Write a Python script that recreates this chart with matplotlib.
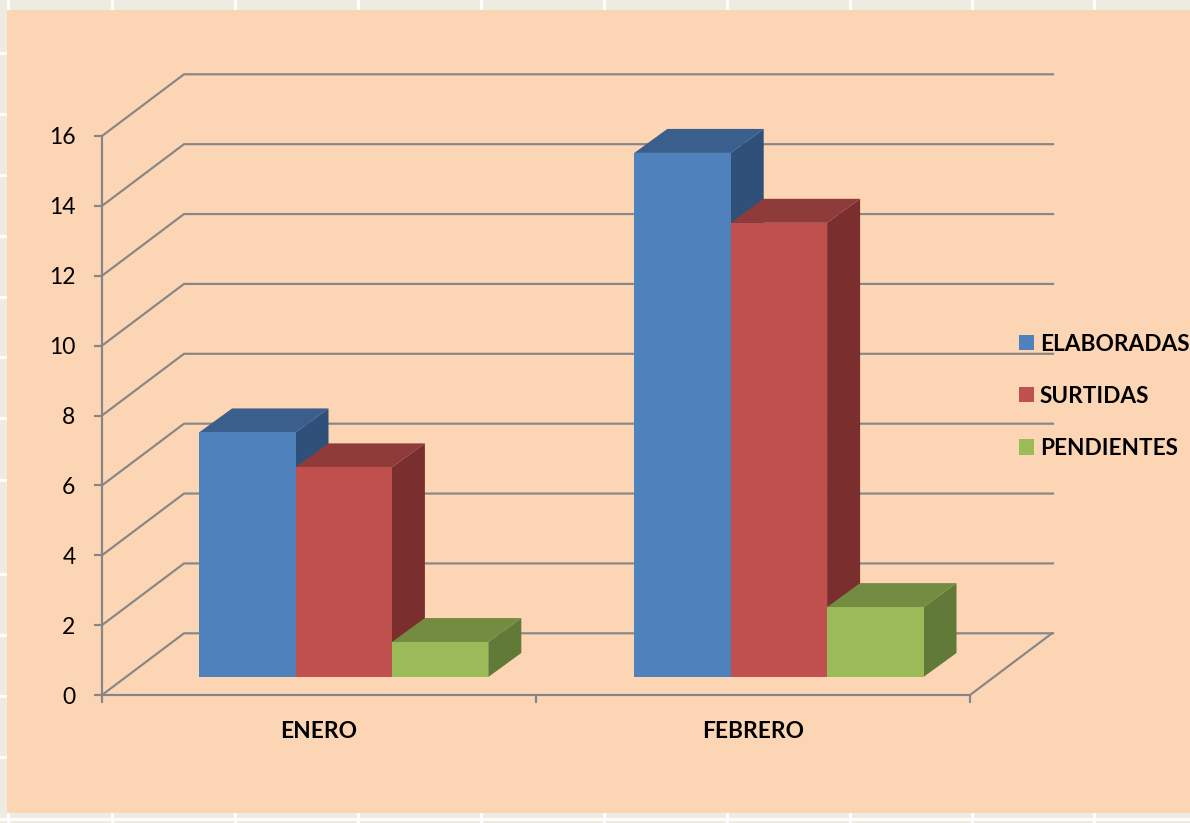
import matplotlib
matplotlib.use("Agg")
import matplotlib.pyplot as plt
from matplotlib.patches import Polygon, Patch, Rectangle

categories = ["ENERO", "FEBRERO"]
series_names = ["ELABORADAS", "SURTIDAS", "PENDIENTES"]
elaboradas = [7, 15]
surtidas = [6, 13]
pendientes = [1, 2]
y_ticks = [0, 2, 4, 6, 8, 10, 12, 14, 16]

FRONT = ["#4F81BD", "#C0504D", "#9BBB59"]
TOP = ["#3A5F8C", "#8E3B39", "#748C42"]
SIDE = ["#2F5079", "#7A2F2E", "#627A37"]
GRID = "#868686"
W, H = 1190, 823
FONT = "Lato"

fig = plt.figure(figsize=(W / 100, H / 100), dpi=100, facecolor="#EEECE1")

# page background in pixel coordinates
bg = fig.add_axes([0, 0, 1, 1], zorder=0)
bg.set_xlim(0, W)
bg.set_ylim(H, 0)
bg.axis("off")
for x in [7.5, 112, 235, 358, 481, 604, 727, 850, 972, 1094]:
    bg.axvline(x, color="white", lw=2.0)
for y in [53, 114, 175, 236, 297, 357, 418, 480, 574, 635, 696, 757, 819]:
    bg.axhline(y, color="white", lw=2.0)
bg.add_patch(Rectangle((7, 10), W, 803, fc="#FCD5B5", ec="none", zorder=4))

# front plane of the 3-D chart
x0, x1, y0, y1 = 102, 970, 695, 136
ax = fig.add_axes([x0 / W, 1 - y0 / H, (x1 - x0) / W, (y0 - y1) / H], zorder=2)
ax.set_xlim(0, 2)
ax.set_ylim(0, 16)
ax.patch.set_alpha(0)
sx = 2 / (x1 - x0)
sy = 16 / (y0 - y1)
dx_wall, dy_wall = 82 * sx, 61.7 * sy
dx_off, dy_off = 24.7 * sx, 18 * sy
dx_bar, dy_bar = 33 * sx, 24 * sy
bar_w = 96.4 * sx
pitch_extra = 1.2 * sx

LW = 1.55
for s in ["top", "right"]:
    ax.spines[s].set_visible(False)
for s in ["left", "bottom"]:
    ax.spines[s].set_color(GRID)
    ax.spines[s].set_linewidth(LW)
ax.set_yticks(y_ticks)
ax.set_xticks([0, 1, 2])
ax.set_xticklabels([])
ax.set_xticks([0.5, 1.5], minor=True)
ax.set_xticklabels(categories, minor=True, fontsize=16.4, fontweight="bold", family=FONT)
ax.tick_params(axis="x", which="major", length=6, width=LW, color=GRID)
ax.tick_params(axis="x", which="minor", length=0, pad=19)
ax.tick_params(axis="y", length=6, width=LW, color=GRID, labelsize=16.5, pad=13)
for t in ax.get_yticklabels():
    t.set_family(FONT)

for v in y_ticks:
    ax.plot([0, dx_wall, 2 + dx_wall + sx], [v, v + dy_wall, v + dy_wall], color=GRID,
            lw=LW, clip_on=False, zorder=1, solid_joinstyle="miter")
ax.plot([2, 2 + dx_wall], [0, dy_wall], color=GRID, lw=LW, clip_on=False, zorder=1)

series = [elaboradas, surtidas, pendientes]
z = 3
for c in range(len(categories)):
    left = c + 0.5 - 1.5 * bar_w + dx_off + c * pitch_extra
    for i, vals in enumerate(series):
        v = vals[c]
        xa, xb = left + i * bar_w, left + (i + 1) * bar_w
        ya, yb = dy_off, dy_off + v
        ax.add_patch(Polygon([(xb, ya), (xb + dx_bar, ya + dy_bar), (xb + dx_bar, yb + dy_bar), (xb, yb)],
                             fc=SIDE[i], ec="none", clip_on=False, zorder=z))
        ax.add_patch(Polygon([(xa, yb), (xa + dx_bar, yb + dy_bar), (xb + dx_bar, yb + dy_bar), (xb, yb)],
                             fc=TOP[i], ec="none", clip_on=False, zorder=z))
        ax.add_patch(Rectangle((xa, ya), bar_w, v, fc=FRONT[i], ec="none", clip_on=False, zorder=z + 1))
        z += 2

handles = [Patch(fc=FRONT[i], ec="none", label=series_names[i]) for i in range(3)]
leg = fig.legend(handles=handles, loc="upper left", bbox_to_anchor=(1012.5 / W, 1 - 327 / H),
                 frameon=False, handlelength=0.66, handleheight=0.66,
                 handletextpad=0.25, labelspacing=1.37, borderpad=0.3, borderaxespad=0,
                 prop={"family": FONT, "weight": "bold", "size": 16.3})
leg.set_zorder(10)

fig.savefig("out.png", dpi=100, facecolor=fig.get_facecolor())
